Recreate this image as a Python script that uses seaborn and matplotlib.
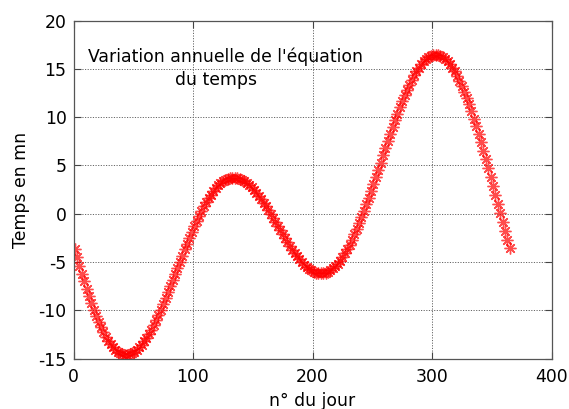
import numpy as np
import pandas as pd
import matplotlib
matplotlib.use("Agg")
import matplotlib.pyplot as plt
import seaborn as sns

# Day of the year (every second day)
days = np.arange(1, 366, 2)

# Equation of time in minutes, one value per entry of `days`
eot_minutes = [
    -3.61, -4.50, -5.37, -6.21, -7.02, -7.81, -8.57, -9.28, -9.96, -10.61,
    -11.21, -11.76, -12.27, -12.73, -13.14, -13.51, -13.82, -14.07, -14.28, -14.43,
    -14.54, -14.59, -14.59, -14.54, -14.44, -14.29, -14.08, -13.85, -13.56, -13.23,
    -12.86, -12.45, -12.01, -11.53, -11.03, -10.50, -9.94, -9.36, -8.77, -8.15,
    -7.53, -6.89, -6.25, -5.62, -4.98, -4.34, -3.70, -3.09, -2.48, -1.89,
    -1.31, -0.76, -0.23, 0.28, 0.75, 1.20, 1.62, 1.99, 2.34, 2.65,
    2.93, 3.17, 3.37, 3.52, 3.64, 3.72, 3.75, 3.75, 3.72, 3.64,
    3.53, 3.38, 3.20, 2.98, 2.74, 2.47, 2.17, 1.85, 1.51, 1.15,
    0.77, 0.37, -0.03, -0.45, -0.87, -1.29, -1.71, -2.13, -2.53, -2.93,
    -3.33, -3.71, -4.07, -4.40, -4.72, -5.02, -5.28, -5.52, -5.71, -5.87,
    -6.01, -6.11, -6.17, -6.18, -6.16, -6.10, -5.99, -5.84, -5.66, -5.43,
    -5.16, -4.85, -4.48, -4.09, -3.66, -3.19, -2.68, -2.15, -1.58, -0.99,
    -0.36, 0.30, 0.97, 1.66, 2.37, 3.09, 3.83, 4.56, 5.30, 6.05,
    6.79, 7.53, 8.26, 8.97, 9.68, 10.36, 11.02, 11.65, 12.26, 12.83,
    13.37, 13.87, 14.34, 14.76, 15.15, 15.49, 15.78, 16.01, 16.20, 16.33,
    16.42, 16.45, 16.42, 16.35, 16.22, 16.03, 15.78, 15.48, 15.14, 14.74,
    14.29, 13.79, 13.24, 12.65, 12.02, 11.34, 10.62, 9.86, 9.08, 8.26,
    7.42, 6.55, 5.67, 4.76, 3.84, 2.91, 1.97, 1.03, 0.10, -0.84,
    -1.78, -2.70, -3.59,
]

x_ticks = [0, 100, 200, 300, 400]
y_ticks = [-15, -10, -5, 0, 5, 10, 15, 20]

df = pd.DataFrame({"jour": days, "temps": eot_minutes})

sns.set_theme(style="white")
plt.rcParams["font.family"] = ["DejaVu Sans"]
plt.rcParams["axes.unicode_minus"] = False
plt.rcParams["text.color"] = "black"
plt.rcParams["axes.labelcolor"] = "black"

fig = plt.figure(figsize=(5.69, 4.09), dpi=100)
ax = fig.add_axes([73.5 / 569, 1 - 358.5 / 409, 478 / 569, 337.8 / 409])

ax.grid(True, linestyle=(0, (1.2, 1.5)), color="#666666", linewidth=0.7)
ax.set_axisbelow(True)

# asterisk markers (+ and x combined)
sns.lineplot(data=df, x="jour", y="temps", ax=ax, color="red",
             linestyle="", marker=(8, 2, 0), markersize=8.5,
             markeredgewidth=1.0, markeredgecolor="red", alpha=0.7)

ax.set_xlim(0, 400)
ax.set_ylim(-15, 20)
ax.set_xticks(x_ticks)
ax.set_yticks(y_ticks)
ax.tick_params(direction="in", length=5, width=0.8, colors="#444444",
               labelcolor="black", labelsize=12.4, top=True, right=True,
               bottom=True, left=True)
ax.tick_params(axis="x", pad=7)
ax.tick_params(axis="y", pad=5)
for s in ax.spines.values():
    s.set_color("#555555")
    s.set_linewidth(0.9)

ax.set_xlabel("n° du jour", fontsize=12.4, labelpad=4)
ax.set_ylabel("Temps en mn", fontsize=12.4, labelpad=6)

ax.text(12.4, 15.72, "Variation annuelle de l'équation", fontsize=12.4,
        va="baseline", ha="left")
ax.text(119, 13.34, "du temps", fontsize=12.4, va="baseline", ha="center")

fig.savefig("out.png", dpi=100)
